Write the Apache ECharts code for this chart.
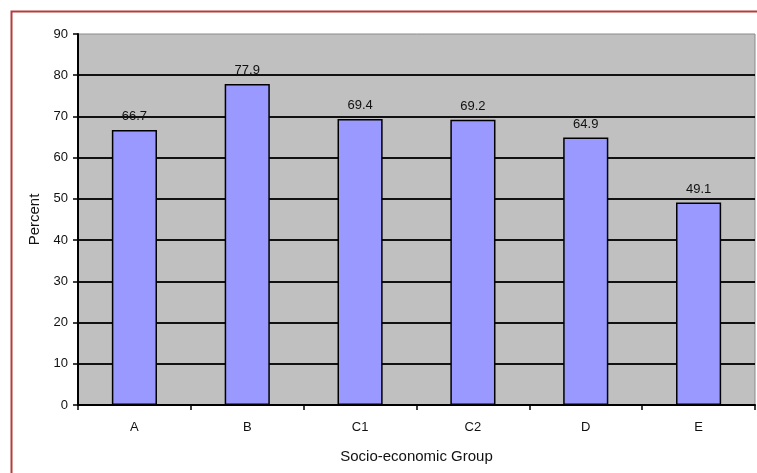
<!DOCTYPE html>
<html>
<head>
<meta charset="utf-8">
<script src="https://cdn.jsdelivr.net/npm/echarts@6/dist/echarts.min.js"></script>
<style>
  html, body { margin: 0; padding: 0; background: #ffffff; }
  #chart { width: 757px; height: 473px; }
</style>
</head>
<body>
<div id="chart"></div>
<script>
// Share by socio-economic group (percent)
var groups = ['A', 'B', 'C1', 'C2', 'D', 'E'];
var percents = [66.7, 77.9, 69.4, 69.2, 64.9, 49.1];
var yMin = 0;
var yMax = 90;
var yStep = 10;

var FONT = '"Liberation Sans", Arial, sans-serif';

var chart = echarts.init(document.getElementById('chart'), null, { renderer: 'canvas' });

chart.setOption({
  animation: false,
  backgroundColor: '#ffffff',
  textStyle: { fontFamily: FONT, color: '#000' },
  graphic: [{
    type: 'rect',
    left: 9, top: 9,
    shape: { width: 900, height: 600 },
    style: { fill: 'none', stroke: '#b83a3a', lineWidth: 2 },
    z: -10,
    silent: true
  }],
  grid: {
    left: 78, right: 2, top: 34, bottom: 68,
    show: true,
    backgroundColor: '#c0c0c0',
    borderColor: '#8a8a8a',
    borderWidth: 1
  },
  xAxis: {
    type: 'category',
    data: groups,
    name: 'Socio-economic Group',
    nameLocation: 'middle',
    nameGap: 44,
    nameTextStyle: { fontFamily: FONT, fontSize: 15, color: '#111' },
    axisLine: { show: true, lineStyle: { color: '#000', width: 2 } },
    axisTick: { show: true, length: 5, lineStyle: { color: '#000', width: 1.5 } },
    axisLabel: { fontFamily: FONT, fontSize: 13, color: '#111', margin: 16 },
    splitLine: { show: false }
  },
  yAxis: {
    type: 'value',
    min: yMin, max: yMax, interval: yStep,
    name: 'Percent',
    nameLocation: 'middle',
    nameGap: 36,
    nameRotate: 90,
    nameTextStyle: { fontFamily: FONT, fontSize: 15, color: '#111' },
    axisLine: { show: true, lineStyle: { color: '#000', width: 2 } },
    axisTick: { show: true, length: 5, lineStyle: { color: '#000', width: 1.5 } },
    axisLabel: { fontFamily: FONT, fontSize: 13, color: '#111', margin: 10 },
    splitLine: {
      show: true,
      showMaxLine: false,
      lineStyle: { color: '#111', width: 2 }
    }
  },
  series: [{
    type: 'bar',
    data: percents,
    barWidth: '40%',
    itemStyle: { color: '#9999ff', borderColor: '#000', borderWidth: 1.5 },
    label: {
      show: true,
      position: 'top',
      distance: 7,
      fontFamily: FONT,
      fontSize: 13,
      color: '#111',
      formatter: function (p) { return p.value.toFixed(1); }
    }
  }]
});
</script>
</body>
</html>
